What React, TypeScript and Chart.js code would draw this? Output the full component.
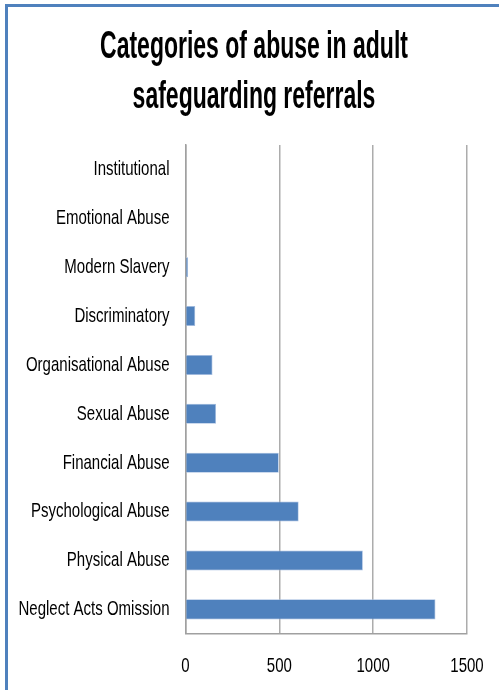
import React, { useEffect, useRef } from "react";
import { Chart, registerables } from "chart.js";

Chart.register(...registerables);

const titleLines = ["Categories of abuse in adult", "safeguarding referrals"];
const categories = [
  "Institutional",
  "Emotional Abuse",
  "Modern Slavery",
  "Discriminatory",
  "Organisational Abuse",
  "Sexual Abuse",
  "Financial Abuse",
  "Psychological Abuse",
  "Physical Abuse",
  "Neglect Acts Omission",
];
const referrals = [0, 0, 14, 52, 144, 163, 497, 603, 945, 1332];
const xMin = 0;
const xMax = 1500;
const xStep = 500;

const FONT = '"Liberation Sans", Arial, sans-serif';
const LABEL_SX = 0.715;
const TITLE_SX = 0.605;

// Draws text horizontally condensed, to mimic the narrow (Calibri-like) lettering.
const condensePlugin = {
  id: "condense",
  beforeInit(chart: any) {
    const ctx = chart.ctx as CanvasRenderingContext2D;
    const proto = CanvasRenderingContext2D.prototype;
    (ctx as any).fillText = function (text: string, x: number, y: number) {
      const bold = /bold|700/.test(this.font);
      const sx = bold ? TITLE_SX : LABEL_SX;
      this.save();
      this.translate(x, y);
      this.scale(sx, 1);
      proto.fillText.call(this, text, 0, 0);
      this.restore();
    };
  },
};

export default function App() {
  const canvasRef = useRef<HTMLCanvasElement | null>(null);

  useEffect(() => {
    document.body.style.margin = "0";
    document.body.style.overflow = "hidden";
    const canvas = canvasRef.current;
    if (!canvas) return;
    const chart = new Chart(canvas, {
      type: "bar",
      data: {
        labels: categories,
        datasets: [
          {
            label: "Referrals",
            data: referrals,
            backgroundColor: "#4F81BD",
            borderColor: "#A3BCE0",
            borderWidth: 0.75,
            borderSkipped: "left",
            barPercentage: 0.41,
            categoryPercentage: 1,
          },
        ],
      },
      plugins: [condensePlugin],
      options: {
        indexAxis: "y",
        animation: false,
        responsive: false,
        maintainAspectRatio: false,
        devicePixelRatio: 1,
        layout: { padding: { left: 15, right: 6, top: 0, bottom: 11 } },
        plugins: {
          legend: { display: false },
          tooltip: { enabled: false },
          title: {
            display: true,
            text: titleLines,
            color: "#000",
            font: { family: FONT, size: 38, weight: "bold", lineHeight: 50 / 38 },
            padding: { top: 22.5, bottom: 22.5 },
          },
        },
        scales: {
          x: {
            type: "linear",
            min: xMin,
            max: xMax,
            ticks: {
              stepSize: xStep,
              color: "#000",
              font: { family: FONT, size: 21 },
              padding: 20,
              callback: (v: any) => String(v),
            },
            grid: { color: "#acacac", lineWidth: 1.5, drawTicks: false },
            border: { display: true, color: "#a0a0a0", width: 1.5 },
            afterFit: (scale: any) => {
              scale.height = 45.2;
              scale.paddingLeft = 0;
              scale.paddingRight = 32;
            },
          },
          y: {
            ticks: {
              color: "#000",
              font: { family: FONT, size: 21 },
              padding: 16,
            },
            grid: { display: false, drawTicks: false },
            border: { display: true, color: "#a0a0a0", width: 1.5 },
            afterFit: (scale: any) => {
              scale.width = 170.5;
              scale.paddingTop = 0;
              scale.paddingBottom = 0;
            },
          },
        },
      },
    });
    return () => chart.destroy();
  }, []);

  return (
    <div
      style={{
        position: "fixed",
        left: 0,
        top: 0,
        width: 499,
        height: 690,
        overflow: "hidden",
        background: "#fff",
      }}
    >
      <div
        style={{
          position: "absolute",
          left: 5,
          top: 4,
          width: 700,
          height: 800,
          borderLeft: "3px solid #4F81BD",
          borderTop: "3px solid #4F81BD",
        }}
      />
      <canvas
        ref={canvasRef}
        width={499}
        height={690}
        style={{ position: "absolute", left: 0, top: 0, display: "block", width: 499, height: 690 }}
      />
    </div>
  );
}
